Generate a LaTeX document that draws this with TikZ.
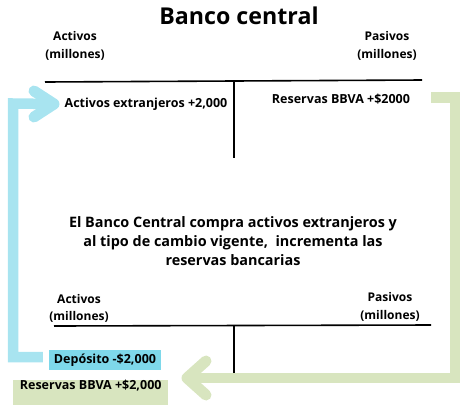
\documentclass[tikz,border=0pt]{standalone}
\usepackage{fontspec}
\setmainfont{Open Sans}
\usetikzlibrary{calc}
\definecolor{barblue}{HTML}{A8E4F0}
\definecolor{boxblue}{HTML}{7ED8EA}
\definecolor{sage}{HTML}{D8E5BF}
\tikzset{
  lbl/.style={font=\bfseries\fontsize{12}{17.5}\selectfont, align=center, inner sep=0pt},
  entry/.style={font=\bfseries\fontsize{12.5}{14}\selectfont, inner sep=0pt},
  ledger/.style={line width=1.6pt, black},
  bluebar/.style={line width=10.5pt, barblue},
  bluehead/.style={line width=11pt, barblue, line cap=round, line join=round},
  greenbar/.style={line width=10.5pt, sage},
  greenhead/.style={line width=11pt, sage, line cap=round, line join=round}
}
\begin{document}
\begin{tikzpicture}[x=1pt,y=-1pt]
\useasboundingbox (0,0) rectangle (471,408);
% title
\node[font=\bfseries\fontsize{23.2}{26}\selectfont, inner sep=0pt] (title) at (239,16) {Banco central};
% top T-account
\node[lbl] (actTop) at (75,46) {Activos\\(millones)};
\node[lbl] (pasTop) at (387,46) {Pasivos\\(millones)};
\coordinate (tl) at (45,82);
\coordinate (tr) at (422,80);
\coordinate (tvt) at (234,81);
\coordinate (tvb) at (234,158);
\draw[ledger] (tl) -- (tr);
\draw[ledger] (tvt) -- (tvb);
\node[entry] (actExt) at (146,104) {Activos extranjeros +2,000};
\node[entry] (resTop) at (341,99) {Reservas BBVA +\$2000};
% explanation
\node[font=\bfseries\fontsize{14.4}{19}\selectfont, align=center, inner sep=0pt] (expl) at (233,241)
  {El Banco Central compra activos extranjeros y\\al tipo de cambio vigente,\ \ incrementa las\\reservas bancarias};
% bottom T-account
\node[lbl] (actBot) at (79,308.5) {Activos\\(millones)};
\node[lbl] (pasBot) at (390,307) {Pasivos\\(millones)};
\coordinate (bl) at (54,326);
\coordinate (br) at (431,325);
\coordinate (bvt) at (234,325.5);
\coordinate (bvb) at (234,373);
\draw[ledger] (bl) -- (br);
\draw[ledger] (bvt) -- (bvb);
% boxes
\node[entry, fill=boxblue, minimum width=112pt, minimum height=20pt] (dep) at (105,360) {Depósito -\$2,000};
\node[entry, fill=sage, anchor=base west, inner xsep=0pt, inner ysep=0pt, text height=9pt, text depth=16pt, minimum width=155pt] (resBot) at (13,389) {Reservas BBVA +\$2,000};
% blue arrow
\coordinate (blueTip) at (54,104);
\draw[bluebar] ([xshift=-6pt,yshift=3pt]dep.west) -| (13,103.5) -- (blueTip);
\draw[bluehead] ($(blueTip)+(-20,-13)$) -- (blueTip) -- ($(blueTip)+(-20,13)$);
% green arrow
\coordinate (greenStart) at (431,97.5);
\coordinate (greenTip) at (187,378);
\draw[greenbar] (greenStart) -- (455,97.5) -- (455,378) -- (greenTip);
\draw[greenhead] ($(greenTip)+(19,-17)$) -- (greenTip) -- ($(greenTip)+(19,17)$);
\end{tikzpicture}
\end{document}
